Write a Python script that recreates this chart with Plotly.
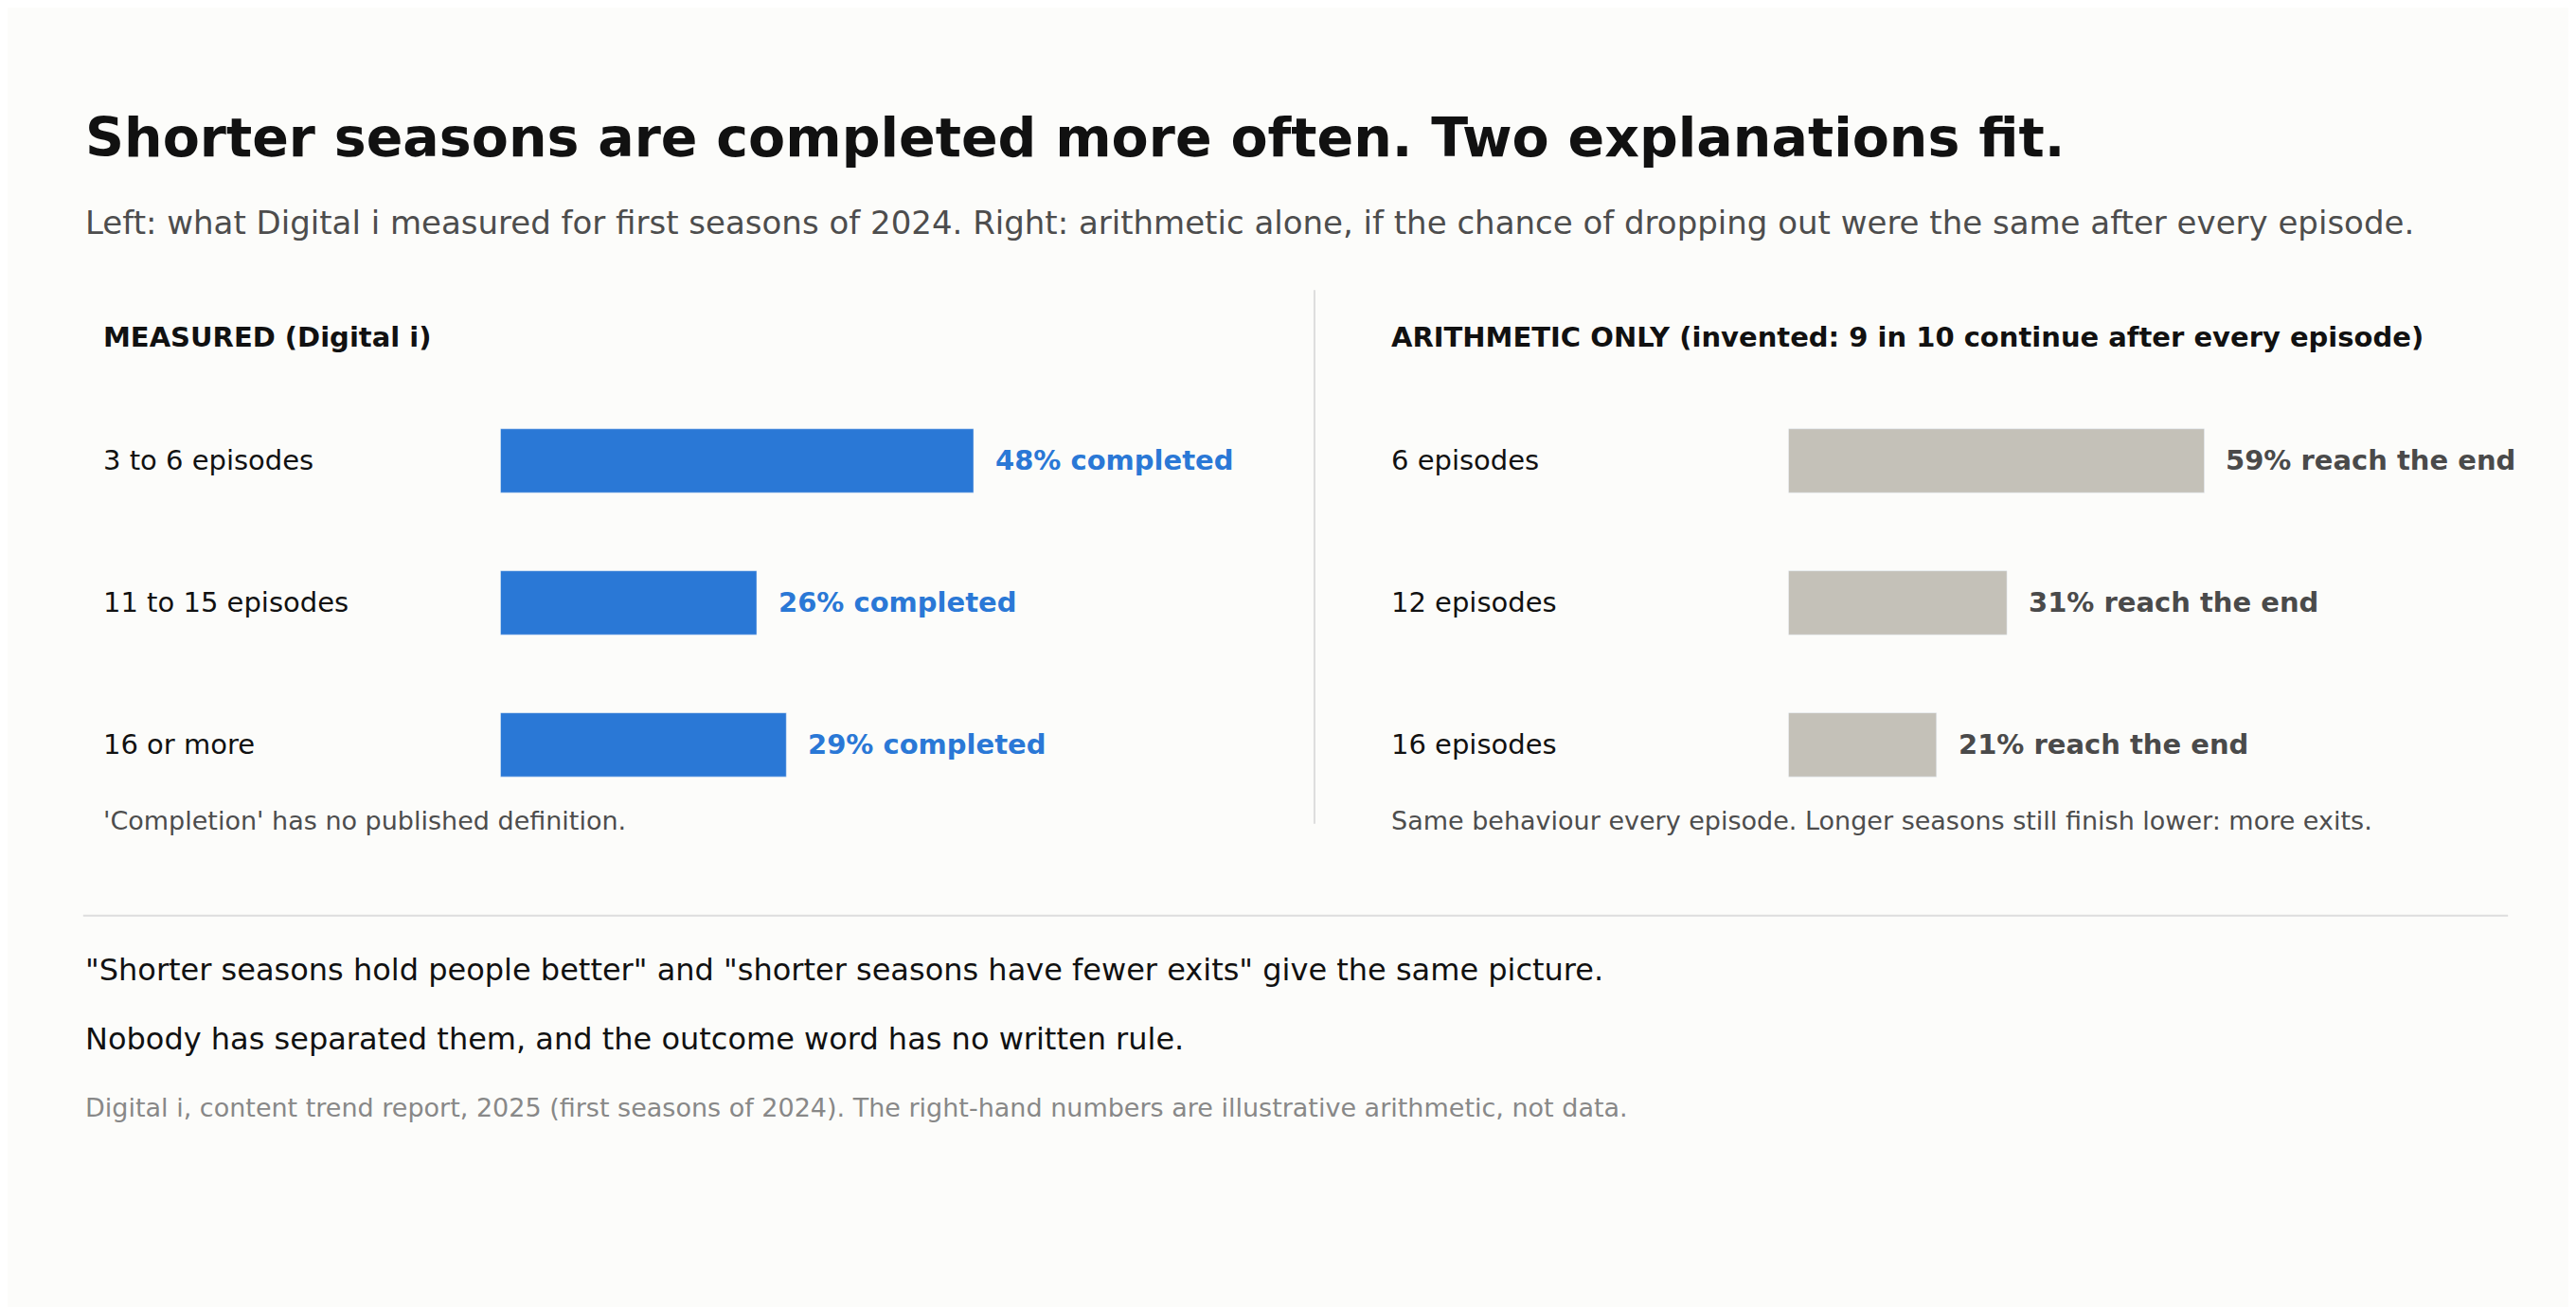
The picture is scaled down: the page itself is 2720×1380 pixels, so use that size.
import plotly.graph_objects as go

# data
left_labels = ["3 to 6 episodes", "11 to 15 episodes", "16 or more"]
left_values = [48, 26, 29]
right_labels = ["6 episodes", "12 episodes", "16 episodes"]
right_values = [59, 31, 21]

W, H = 2720, 1380
S = W / 1568.0  # reference layout measured at 1568 wide


def px(x):  # horizontal display px -> paper
    return x / 1568.0


def py(y):  # vertical display px (from top) -> paper
    return 1 - y / 796.0


def fs(v):
    return round(v * S)


FONT = "DejaVu Sans"
BLUE = "#2a78d6"
GREY = "#c4c1b8"

fig = go.Figure()
rows = [0, 1, 2]
fig.add_trace(go.Bar(x=left_values, y=rows, orientation="h", marker_color=BLUE,
                     width=0.45, xaxis="x", yaxis="y", hoverinfo="skip"))
fig.add_trace(go.Bar(x=right_values, y=rows, orientation="h", marker_color=GREY,
                     width=0.45, xaxis="x2", yaxis="y", hoverinfo="skip"))

ydom = [py(492.25), py(232.75)]
fig.update_layout(
    width=W, height=H, margin=dict(l=0, r=0, t=0, b=0),
    paper_bgcolor="#fcfcfa", plot_bgcolor="rgba(0,0,0,0)",
    showlegend=False, font=dict(family=FONT),
    xaxis=dict(domain=[px(300), px(784)], range=[0, 484 / 6.0], visible=False),
    xaxis2=dict(domain=[px(1084), px(1568)], range=[0, 484 / 4.29], visible=False),
    yaxis=dict(domain=ydom, range=[2.5, -0.5], visible=False),
)

ann = []


def text(x, y, s, size, color, bold=False, xanchor="left"):
    ann.append(dict(x=px(x), y=py(y), xref="paper", yref="paper", text=f"<b>{s}</b>" if bold else s,
                    showarrow=False, xanchor=xanchor, yanchor="middle",
                    font=dict(size=fs(size), color=color, family=FONT)))


text(46, 79, "Shorter seasons are completed more often. Two explanations fit.", 33, "#111111", bold=True)
text(46, 131, "Left: what Digital i measured for first seasons of 2024. Right: arithmetic alone, if the chance of dropping out were the same after every episode.", 19.5, "#4d4d4d")
text(57, 201, "MEASURED (Digital i)", 16.5, "#111111", bold=True)
text(841, 201, "ARITHMETIC ONLY (invented: 9 in 10 continue after every episode)", 16.5, "#111111", bold=True)

for i, (lab, v) in enumerate(zip(left_labels, left_values)):
    ann.append(dict(x=0, y=i, xref="paper", yref="y", text=lab, showarrow=False, xanchor="left",
                    xshift=57 * S, font=dict(size=fs(16.5), color="#111111", family=FONT)))
    ann.append(dict(x=v, y=i, xref="x", yref="y", text=f"<b>{v}% completed</b>", showarrow=False,
                    xanchor="left", xshift=12 * S, font=dict(size=fs(16.5), color=BLUE, family=FONT)))
for i, (lab, v) in enumerate(zip(right_labels, right_values)):
    ann.append(dict(x=px(841), y=i, xref="paper", yref="y", text=lab, showarrow=False, xanchor="left",
                    font=dict(size=fs(16.5), color="#111111", family=FONT)))
    ann.append(dict(x=v, y=i, xref="x2", yref="y", text=f"<b>{v}% reach the end</b>", showarrow=False,
                    xanchor="left", xshift=12 * S, font=dict(size=fs(16.5), color="#4a4a4a", family=FONT)))

text(57, 495, "'Completion' has no published definition.", 15.5, "#4d4d4d")
text(841, 495, "Same behaviour every episode. Longer seasons still finish lower: more exits.", 15.5, "#4d4d4d")
text(46, 586, "\"Shorter seasons hold people better\" and \"shorter seasons have fewer exits\" give the same picture.", 18.5, "#111111")
text(46, 628, "Nobody has separated them, and the outcome word has no written rule.", 18.5, "#111111")
text(46, 670, "Digital i, content trend report, 2025 (first seasons of 2024). The right-hand numbers are illustrative arithmetic, not data.", 15.5, "#888888")

fig.update_layout(annotations=ann, shapes=[
    dict(type="line", xref="paper", yref="paper", x0=px(795.5), x1=px(795.5), y0=py(172), y1=py(497),
         line=dict(color="#dddddd", width=2)),
    dict(type="line", xref="paper", yref="paper", x0=px(46), x1=px(1522), y0=py(553), y1=py(553),
         line=dict(color="#dddddd", width=2)),
])

fig.write_html("out.html")
